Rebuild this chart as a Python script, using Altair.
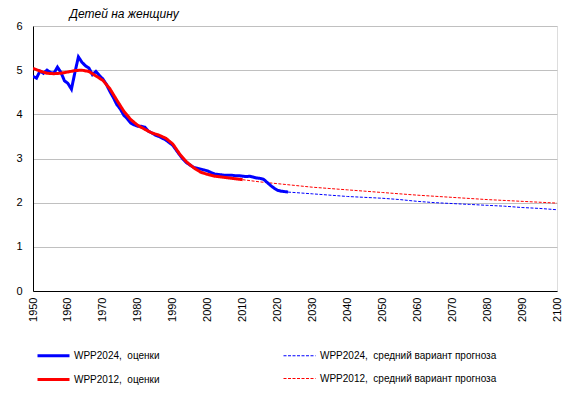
import altair as alt
import pandas as pd

# ---- data ----
est24_years = [1950, 1951, 1952, 1953, 1954, 1955, 1956, 1957, 1958, 1959,
               1960, 1961, 1962, 1963, 1964, 1965, 1966, 1967, 1968, 1969,
               1970, 1971, 1972, 1973, 1974, 1975, 1976, 1977, 1978, 1979,
               1980, 1981, 1982, 1983, 1984, 1985, 1986, 1987, 1988, 1989,
               1990, 1991, 1992, 1993, 1994, 1995, 1996, 1997, 1998, 1999,
               2000, 2001, 2002, 2003, 2004, 2005, 2006, 2007, 2008, 2009,
               2010, 2011, 2012, 2013, 2014, 2015, 2016, 2017, 2018, 2019,
               2020, 2021, 2022, 2023]
est24_tfr = [4.86, 4.82, 4.98, 4.93, 5.00, 4.95, 4.93, 5.07, 4.95, 4.76,
             4.70, 4.57, 4.95, 5.30, 5.18, 5.10, 5.05, 4.90, 4.97, 4.88,
             4.80, 4.68, 4.52, 4.38, 4.22, 4.12, 3.98, 3.90, 3.80, 3.76,
             3.73, 3.73, 3.71, 3.62, 3.58, 3.53, 3.50, 3.46, 3.42, 3.36,
             3.30, 3.19, 3.08, 2.98, 2.90, 2.85, 2.80, 2.78, 2.76, 2.74,
             2.72, 2.68, 2.65, 2.64, 2.63, 2.62, 2.62, 2.62, 2.61, 2.61,
             2.60, 2.59, 2.60, 2.58, 2.56, 2.55, 2.53, 2.46, 2.39, 2.33,
             2.28, 2.26, 2.25, 2.24]

proj24_years = [2023, 2030, 2035, 2040, 2045, 2050, 2055, 2060, 2065, 2070,
                2075, 2080, 2085, 2090, 2095, 2100]
proj24_tfr = [2.24, 2.20, 2.17, 2.14, 2.12, 2.10, 2.07, 2.03, 2.00, 1.98,
              1.96, 1.94, 1.92, 1.89, 1.87, 1.84]

est12_years = [1950, 1952, 1954, 1956, 1958, 1960, 1962, 1964, 1966, 1968,
               1970, 1972, 1974, 1976, 1978, 1980, 1982, 1984, 1986, 1988,
               1990, 1992, 1994, 1996, 1998, 2000, 2002, 2004, 2006, 2008,
               2010]
est12_tfr = [5.04, 4.98, 4.93, 4.92, 4.93, 4.96, 4.99, 5.00, 4.97, 4.87,
             4.77, 4.58, 4.32, 4.07, 3.88, 3.75, 3.66, 3.58, 3.53, 3.46,
             3.33, 3.10, 2.92, 2.79, 2.69, 2.64, 2.60, 2.58, 2.56, 2.54,
             2.52]

proj12_years = [2010, 2015, 2020, 2025, 2030, 2035, 2040, 2045, 2050, 2060,
                2070, 2080, 2090, 2100]
proj12_tfr = [2.52, 2.47, 2.43, 2.39, 2.35, 2.32, 2.29, 2.26, 2.23, 2.17,
              2.12, 2.07, 2.03, 1.99]

NB = "\u00a0"
s_est24 = "WPP2024," + NB + " оценки"
s_proj24 = "WPP2024," + NB + " средний вариант прогноза"
s_est12 = "WPP2012," + NB + " оценки"
s_proj12 = "WPP2012," + NB + " средний вариант прогноза"
# legend fills column by column
series_order = [s_est24, s_est12, s_proj24, s_proj12]
series_colors = ["#0000ff", "#ff0000", "#0000ff", "#ff0000"]
series_dash = [[1, 0], [1, 0], [3, 1.5], [3, 1.5]]
series_width = [3, 3, 1, 1]

x_ticks = list(range(1950, 2101, 10))
y_ticks = [0, 1, 2, 3, 4, 5, 6]

frames = []
for name, yrs, vals in [(s_est24, est24_years, est24_tfr),
                        (s_proj24, proj24_years, proj24_tfr),
                        (s_est12, est12_years, est12_tfr),
                        (s_proj12, proj12_years, proj12_tfr)]:
    frames.append(pd.DataFrame({"year": yrs, "tfr": vals, "series": name}))
df = pd.concat(frames, ignore_index=True)

FONT = "Liberation Sans"

x_enc = alt.X("year:Q",
              scale=alt.Scale(domain=[1950, 2100], nice=False, zero=False),
              axis=alt.Axis(values=x_ticks, format="d", labelAngle=270,
                            labelFontSize=11, labelColor="black", labelFont=FONT,
                            ticks=False, grid=False, domainColor="black",
                            labelPadding=6, title=None, labelOverlap=False))
y_enc = alt.Y("tfr:Q",
              scale=alt.Scale(domain=[0, 6], nice=False),
              axis=alt.Axis(values=y_ticks, labelFontSize=11, labelColor="black",
                            labelFont=FONT, ticks=False, grid=True,
                            gridColor="#c0c0c0", gridWidth=1, domainColor="black",
                            labelPadding=11,
                            title="Детей на женщину", titleAngle=0,
                            titleAlign="left", titleBaseline="middle",
                            titleX=36, titleY=-13, titleFont=FONT,
                            titleFontSize=12, titleFontStyle="italic",
                            titleFontWeight="normal", titleColor="black"))

legend = alt.Legend(title=None, orient="none", legendX=3, legendY=312,
                    columns=2, columnPadding=121, rowPadding=0,
                    symbolType="stroke", symbolSize=1024,
                    labelFont=FONT, labelFontSize=10, labelColor="black",
                    labelOffset=3, labelLimit=400)

color_enc = alt.Color("series:N",
                      scale=alt.Scale(type="ordinal", domain=series_order, range=series_colors),
                      legend=legend)
dash_enc = alt.StrokeDash("series:N",
                          scale=alt.Scale(type="ordinal", domain=series_order, range=series_dash),
                          legend=legend)
width_enc = alt.StrokeWidth("series:N",
                            scale=alt.Scale(type="ordinal", domain=series_order, range=series_width),
                            legend=legend)

def layer_for(name):
    return alt.Chart(df).transform_filter(
        alt.datum.series == name
    ).mark_line(clip=True).encode(
        x=x_enc, y=y_enc, color=color_enc, strokeDash=dash_enc, strokeWidth=width_enc
    )

chart = alt.layer(
    layer_for(s_proj24), layer_for(s_proj12), layer_for(s_est24), layer_for(s_est12)
).properties(
    width=524, height=265,
    autosize=alt.AutoSizeParams(type="none"),
    padding={"left": 25, "top": 18, "right": 7, "bottom": 100},
).configure_view(
    stroke="black", strokeWidth=1
).configure(background="white")

chart.save("out.html", embed_options={"renderer": "svg", "actions": False})
